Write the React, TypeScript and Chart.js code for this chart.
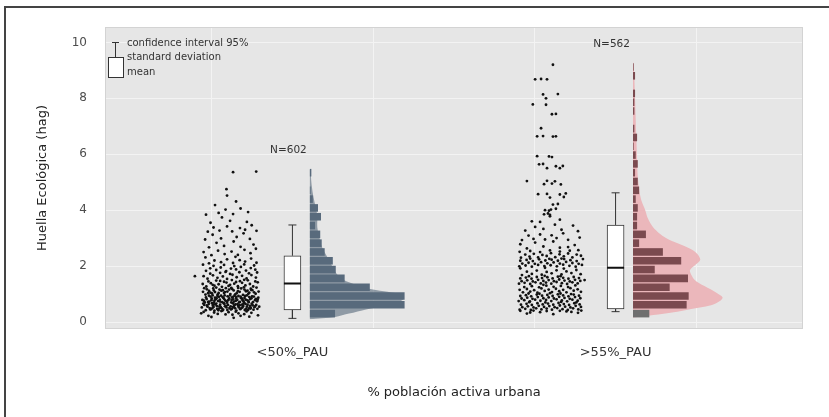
import React, { useEffect, useRef } from 'react';
import { Chart, registerables } from 'chart.js';

Chart.register(...registerables);

// ---------------- data ----------------
const CATEGORIES = ['<50%_PAU', '>55%_PAU'];
const N_LABELS = ['N=602', 'N=562'];
const Y_TICKS = [0, 2, 4, 6, 8, 10];
const X_TITLE = '% población activa urbana';
const Y_TITLE = 'Huella Ecológica (hag)';
const LEGEND_TEXT = ['confidence interval 95%', 'standard deviation', 'mean'];

// box: whisker low, box low, middle, box high, whisker high
const WHISKER_LOW = [0.13, 0.37];
const BOX_LOW = [0.43, 0.465];
const BOX_MID = [1.38, 1.94];
const BOX_HIGH = [2.37, 3.47];
const WHISKER_HIGH = [3.47, 4.62];

// histogram bin centres and counts
const HIST_BINS = [0.3, 0.615, 0.93, 1.245, 1.56, 1.875, 2.19, 2.505, 2.82, 3.135, 3.45, 3.765, 4.08, 4.395, 4.71, 5.025, 5.34, 5.655, 5.97, 6.285, 6.6, 6.915, 7.23, 7.545, 7.86, 8.175, 8.49, 8.805, 9.12];
const HIST_LOW = [34, 128, 128, 81, 47, 35, 31, 20, 16, 14, 7, 15, 11, 4, 1, 0, 2];
const HIST_HIGH = [24, 79, 82, 54, 81, 32, 71, 44, 9, 19, 6, 6, 7, 4, 9, 7, 3, 7, 4, 1, 6, 2, 0, 2, 2, 3, 0, 3, 1];

// density curves (same units as the histogram counts)
const DENS_LOW_Y = [0.1, 0.18, 0.3, 0.45, 0.6, 0.75, 0.85, 1.0, 1.1, 1.2, 1.35, 1.5, 1.7, 1.9, 2.1, 2.4, 2.7, 3.0, 3.4, 3.8, 4.2, 4.6, 5.0, 5.4, 5.45];
const DENS_LOW_V = [0, 34, 53, 76, 103, 123, 127, 120, 100, 78, 60, 46, 37, 32, 28, 22, 16, 13, 10, 10, 7, 4, 2, 1, 0];
const DENS_HIGH_Y = [0.15, 0.25, 0.35, 0.45, 0.6, 0.75, 0.88, 1.03, 1.2, 1.35, 1.5, 1.68, 1.86, 2.05, 2.22, 2.4, 2.58, 2.75, 2.93, 3.15, 3.41, 3.7, 4.0, 4.3, 4.6, 5.2, 5.8, 6.5, 7.2, 8.0, 8.7, 9.2, 9.3];
const DENS_HIGH_V = [0, 30, 60, 82, 115, 128, 132, 124, 112, 100, 91, 86, 84, 92, 99, 96, 87, 72, 54, 40, 29, 22, 18, 13, 10, 7, 6, 5, 4, 3, 2, 1, 0];

// jittered observations: [jitter (-1..1), value]
const POINTS_LOW: [number, number][] = [
  [-0.62,0.18],[0.35,0.22],[-0.15,0.27],[0.71,0.33],[-0.88,0.36],[0.12,0.15],[0.55,0.38],[-0.41,0.29],[0.93,0.24],[-0.05,0.35],[0.28,0.31],[-0.72,0.22],[0.64,0.19],[-0.29,0.39],[0.08,0.26],[-0.53,0.34],[0.47,0.28],[-0.96,0.31],[0.19,0.37],
  [-0.81,0.42],[-0.66,0.45],[-0.52,0.41],[-0.37,0.48],[-0.23,0.44],[-0.09,0.43],[0.06,0.47],[0.21,0.41],[0.34,0.46],[0.49,0.43],[0.63,0.49],[0.78,0.44],[0.91,0.47],
  [-0.94,0.52],[-0.75,0.55],[-0.58,0.51],[-0.44,0.57],[-0.31,0.53],[-0.17,0.56],[-0.02,0.5],[0.13,0.54],[0.27,0.58],[0.41,0.52],[0.56,0.55],[0.69,0.51],[0.84,0.57],
  [-0.86,0.61],[-0.71,0.64],[-0.57,0.6],[-0.46,0.66],[-0.33,0.62],[-0.19,0.65],[-0.07,0.61],[0.09,0.67],[0.18,0.63],[0.32,0.6],[0.45,0.66],[0.58,0.62],[0.72,0.65],[0.87,0.61],
  [-0.63,0.46],[-0.28,0.49],[0.02,0.56],[0.38,0.5],[0.66,0.58],[-0.49,0.63],[-0.12,0.52],[0.25,0.64],[0.53,0.47],[-0.77,0.59],[0.81,0.53],[-0.39,0.42],[0.14,0.6],[0.44,0.57],[-0.21,0.67],[0.6,0.43],[-0.55,0.54],[0.03,0.45],[0.29,0.52],[-0.68,0.5],[0.75,0.6],[-0.14,0.58],[0.51,0.65],[-0.43,0.47],[0.17,0.49],[-0.89,0.66],[0.97,0.55],[-0.25,0.41],[0.4,0.62],[-0.6,0.67],[0.1,0.53],[0.68,0.48],[-0.35,0.56],
  [-0.84,0.7],[-0.69,0.73],[-0.54,0.69],[-0.4,0.75],[-0.26,0.71],[-0.11,0.74],[0.04,0.7],[0.19,0.76],[0.33,0.72],[0.47,0.69],[0.61,0.75],[0.76,0.71],[0.9,0.74],
  [-0.92,0.79],[-0.78,0.82],[-0.62,0.78],[-0.48,0.81],[-0.34,0.8],[-0.2,0.83],[-0.06,0.78],[0.1,0.81],[0.24,0.79],[0.39,0.84],[0.52,0.8],[0.67,0.82],[0.83,0.78],
  [-0.8,0.88],[-0.65,0.91],[-0.5,0.87],[-0.37,0.9],[-0.22,0.86],[-0.08,0.92],[0.07,0.88],[0.21,0.9],[0.36,0.86],[0.5,0.93],[0.64,0.89],[0.79,0.91],[0.94,0.87],
  [-0.58,0.95],[-0.3,0.94],[0.0,0.95],[0.28,0.93],[0.56,0.95],[-0.73,0.72],[-0.16,0.77],[0.13,0.73],[0.42,0.78],[0.71,0.85],[-0.45,0.85],[-0.03,0.84],[0.3,0.7],[0.58,0.77],[-0.87,0.76],[0.86,0.83],[-0.25,0.89],[0.15,0.94],[0.45,0.74],[-0.61,0.84],[0.73,0.92],[-0.1,0.69],[0.2,0.85],[-0.42,0.93],[0.62,0.71],[-0.33,0.73],[0.05,0.79],[0.35,0.91],[-0.7,0.94],[0.92,0.8],[-0.18,0.95],[0.48,0.86],[-0.52,0.76],[0.1,0.9],
  [-0.82,0.98],[-0.6,1.02],[-0.41,0.99],[-0.2,1.04],[0.01,1.0],[0.22,1.03],[0.43,0.97],[0.64,1.05],[0.85,1.01],
  [-0.9,1.08],[-0.7,1.11],[-0.5,1.07],[-0.29,1.12],[-0.09,1.09],[0.12,1.13],[0.32,1.08],[0.53,1.1],[0.74,1.14],[0.95,1.09],
  [-0.77,1.17],[-0.56,1.2],[-0.35,1.16],[-0.14,1.21],[0.07,1.18],[0.27,1.22],[0.48,1.16],[0.69,1.19],[0.88,1.23],
  [-0.65,1.05],[-0.24,1.14],[0.17,0.99],[0.58,1.12],[-0.46,1.23],[0.37,1.2],[-0.03,1.16],[0.8,1.06],[-0.86,1.21],[0.26,1.1],[-0.54,1.13],[0.61,1.01],[-0.17,1.07],[0.46,1.24],[-0.38,1.04],[0.04,1.22],[0.7,1.15],[-0.73,1.03],
  [-0.79,1.27],[-0.52,1.3],[-0.27,1.26],[0.0,1.33],[0.26,1.28],[0.51,1.31],[0.77,1.27],
  [-0.91,1.36],[-0.64,1.39],[-0.38,1.35],[-0.12,1.41],[0.14,1.37],[0.4,1.4],[0.66,1.36],[0.92,1.42],
  [-0.72,1.45],[-0.46,1.48],[-0.2,1.44],[0.06,1.5],[0.33,1.46],[0.59,1.49],[0.84,1.45],
  [-0.58,1.33],[0.2,1.43],[-0.05,1.29],[0.47,1.51],[-0.33,1.47],
  [-0.75,1.55],[-0.42,1.58],[-0.1,1.54],[0.22,1.6],[0.55,1.56],[0.86,1.59],
  [-0.88,1.64],[-0.57,1.67],[-0.24,1.63],[0.08,1.69],[0.4,1.65],[0.71,1.68],
  [-0.66,1.73],[-0.33,1.76],[0.0,1.72],[0.31,1.78],[0.63,1.74],[-0.15,1.79],[0.9,1.77],[-1.17,1.64],
  [-0.8,1.83],[-0.46,1.86],[-0.13,1.82],[0.2,1.88],[0.53,1.84],[0.84,1.87],
  [-0.66,1.92],[-0.31,1.95],[0.03,1.91],[0.36,1.97],[0.69,1.93],
  [-0.55,2.01],[-0.2,2.04],[0.14,2.0],[0.47,2.06],[0.8,2.02],[-0.9,2.05],
  [-0.7,2.1],[-0.3,2.14],[0.1,2.11],[0.5,2.16],[0.88,2.12],[-0.52,2.2],[-0.1,2.24],[0.32,2.21],[0.7,2.27],[-0.82,2.31],[0.18,2.33],
  [-0.62,2.39],[-0.18,2.43],[0.26,2.4],[0.68,2.46],[-0.88,2.5],[-0.4,2.55],[0.05,2.52],[0.48,2.58],[0.86,2.62],
  [-0.7,2.67],[-0.2,2.72],[0.35,2.69],[0.78,2.77],[-0.45,2.83],[0.12,2.88],
  [-0.83,2.95],[-0.3,2.99],[0.22,3.04],[0.66,2.97],[-0.58,3.12],[0.45,3.17],
  [-0.74,3.23],[-0.35,3.27],[0.07,3.24],[0.5,3.3],[0.88,3.26],[-0.55,3.38],[-0.1,3.42],[0.33,3.36],[0.72,3.46],
  [-0.65,3.55],[0.0,3.62],[0.56,3.58],[-0.27,3.74],
  [-0.8,3.84],[-0.38,3.9],[0.1,3.86],[0.6,3.93],[-0.15,4.02],[0.35,4.06],
  [-0.5,4.18],[0.2,4.31],[-0.1,4.52],[-0.12,4.75],
  [0.1,5.36],[0.87,5.38],
];

const POINTS_HIGH: [number, number][] = [
  [-0.7,0.3],[-0.3,0.35],[0.1,0.28],[0.5,0.38],[0.85,0.33],[-0.9,0.4],[-0.5,0.41],[0.3,0.4],[0.65,0.36],[-0.1,0.39],[0.95,0.41],[-0.6,0.34],
  [-0.92,0.44],[-0.75,0.47],[-0.58,0.43],[-0.42,0.49],[-0.26,0.45],[-0.1,0.48],[0.06,0.44],[0.22,0.5],[0.38,0.46],[0.54,0.43],[0.7,0.49],[0.86,0.45],
  [-0.84,0.53],[-0.67,0.56],[-0.5,0.52],[-0.34,0.58],[-0.18,0.54],[-0.02,0.57],[0.14,0.53],[0.3,0.59],[0.46,0.55],[0.62,0.52],[0.78,0.58],[0.94,0.54],
  [-0.88,0.62],[-0.71,0.65],[-0.55,0.61],[-0.38,0.67],[-0.22,0.63],[-0.06,0.66],[0.1,0.62],[0.26,0.68],[0.42,0.64],[0.58,0.61],[0.74,0.67],[0.9,0.63],
  [-0.63,0.71],[-0.14,0.7],[0.34,0.72],[0.8,0.7],
  [-0.95,0.75],[-0.78,0.78],[-0.61,0.74],[-0.45,0.8],[-0.29,0.76],[-0.12,0.79],[0.04,0.75],[0.2,0.81],[0.36,0.77],[0.52,0.74],[0.68,0.8],[0.84,0.76],
  [-0.86,0.84],[-0.69,0.87],[-0.53,0.83],[-0.37,0.89],[-0.2,0.85],[-0.04,0.88],[0.12,0.84],[0.28,0.9],[0.44,0.86],[0.6,0.83],[0.76,0.89],[0.92,0.85],
  [-0.9,0.93],[-0.73,0.96],[-0.57,0.92],[-0.4,0.98],[-0.24,0.94],[-0.08,0.97],[0.08,0.93],[0.24,0.99],[0.4,0.95],[0.56,0.92],[0.72,0.98],[0.88,0.94],
  [-0.65,1.02],[-0.32,1.01],[0.0,1.03],[0.32,1.02],[0.64,1.0],
  [-0.82,1.06],[-0.6,1.09],[-0.38,1.05],[-0.16,1.11],[0.06,1.07],[0.28,1.1],[0.5,1.06],[0.72,1.12],[0.94,1.08],
  [-0.92,1.15],[-0.7,1.18],[-0.48,1.14],[-0.26,1.2],[-0.04,1.16],[0.18,1.19],[0.4,1.15],[0.62,1.21],[0.84,1.17],
  [-0.78,1.25],[-0.55,1.28],[-0.33,1.24],[-0.11,1.3],[0.11,1.26],[0.33,1.29],[0.55,1.25],[0.77,1.31],[-0.2,1.33],
  [-0.94,1.37],[-0.77,1.4],[-0.6,1.36],[-0.44,1.42],[-0.28,1.38],[-0.12,1.41],[0.04,1.37],[0.2,1.43],[0.36,1.39],[0.52,1.36],[0.68,1.42],[0.84,1.38],
  [-0.86,1.46],[-0.69,1.49],[-0.52,1.45],[-0.36,1.51],[-0.2,1.47],[-0.04,1.5],[0.12,1.46],[0.28,1.52],[0.44,1.48],[0.6,1.45],[0.76,1.51],[0.92,1.47],
  [-0.9,1.56],[-0.73,1.59],[-0.56,1.55],[-0.4,1.61],[-0.24,1.57],[-0.08,1.6],[0.08,1.56],[0.24,1.62],[0.4,1.58],[0.56,1.55],[0.72,1.61],[0.88,1.57],
  [-0.64,1.64],[-0.16,1.65],[0.32,1.64],[1.05,1.5],
  [-0.85,1.68],[-0.55,1.72],[-0.25,1.69],[0.05,1.74],[0.35,1.7],[0.65,1.75],[0.93,1.71],
  [-0.7,1.8],[-0.4,1.84],[-0.1,1.79],[0.2,1.85],[0.5,1.81],[0.8,1.86],
  [-0.9,1.92],[-0.15,1.94],[0.42,1.91],
  [-0.93,1.99],[-0.74,2.02],[-0.55,1.98],[-0.36,2.04],[-0.17,2.0],[0.02,2.03],[0.21,1.99],[0.4,2.05],[0.59,2.01],[0.78,1.98],[0.97,2.04],
  [-0.84,2.09],[-0.65,2.12],[-0.46,2.08],[-0.27,2.14],[-0.08,2.1],[0.11,2.13],[0.3,2.09],[0.49,2.15],[0.68,2.11],[0.87,2.08],
  [-0.9,2.19],[-0.71,2.22],[-0.52,2.18],[-0.33,2.24],[-0.14,2.2],[0.05,2.23],[0.24,2.19],[0.43,2.25],[0.62,2.21],[0.81,2.18],
  [-0.6,2.27],[-0.02,2.26],[0.35,2.27],[1.0,2.25],
  [-0.88,2.3],[-0.62,2.34],[-0.36,2.31],[-0.1,2.36],[0.16,2.32],[0.42,2.35],[0.68,2.31],[0.94,2.37],
  [-0.75,2.41],[-0.49,2.44],[-0.23,2.4],[0.03,2.46],[0.29,2.42],[0.55,2.45],[0.81,2.41],
  [-0.92,2.51],[-0.6,2.54],[-0.3,2.5],[0.0,2.56],[0.3,2.52],[0.6,2.55],[0.86,2.57],
  [-0.7,2.63],[-0.2,2.7],[0.3,2.66],[0.75,2.75],[-0.45,2.84],[0.55,2.68],[-0.9,2.78],[0.1,2.88],
  [-0.85,2.93],[-0.5,2.97],[-0.15,2.95],[0.2,3.0],[0.55,2.94],[0.9,3.02],[-0.65,3.09],[-0.3,3.13],[0.05,3.1],[0.4,3.17],
  [-0.75,3.27],[-0.2,3.33],[0.35,3.3],[0.7,3.45],[0.85,3.25],[-0.45,3.4],[0.15,3.48],
  [-0.55,3.6],[-0.3,3.58],[0.3,3.66],[0.0,3.78],
  [-0.18,3.85],[-0.06,3.88],[0.0,3.83],
  [-0.15,4.0],[-0.03,3.98],[0.03,4.02],[0.18,4.05],
  [0.09,4.2],[0.24,4.22],
  [0.0,4.45],[0.42,4.47],
  [-0.36,4.57],[-0.09,4.58],[0.3,4.56],[0.48,4.6],
  [-0.18,4.93],[0.06,4.95],[0.33,4.92],
  [-0.7,5.04],[-0.09,5.05],[0.15,5.03],
  [-0.09,5.5],[0.3,5.5],[0.18,5.57],[0.39,5.58],[-0.33,5.64],[-0.21,5.65],
  [-0.39,5.93],[-0.03,5.92],[0.06,5.9],
  [-0.39,6.64],[-0.21,6.65],[0.09,6.63],[0.18,6.64],
  [-0.27,6.93],
  [0.06,7.43],[0.18,7.44],
  [-0.52,7.78],[-0.12,7.77],
  [-0.12,8.0],
  [-0.21,8.14],[0.24,8.15],
  [-0.45,8.68],[-0.27,8.69],[-0.09,8.68],
  [0.09,9.2],
];

// ---------------- layout / style ----------------
const W = 829;
const H = 417;
const X_MIN = 0.42;
const X_MAX = 2.58;
const Y_MIN = -0.25;
const Y_MAX = 10.55;
const CAT_X = [1, 2];
const X_GRID = [0.75, 1.25, 1.75, 2.25];
const CLOUD_SHIFT = [-0.193, -0.203];
const CLOUD_HALF = [0.093, 0.102];
const HIST_SHIFT = 0.054;
const HIST_UNIT = [0.00229, 0.0021];
const MEDIAN_HALF = 0.0263;
const CAP_HALF = 0.0124;
const FONT = '"DejaVu Sans", sans-serif';

const BAR_LOW_COLOR = '#586a7c';
const DENS_LOW_COLOR = 'rgba(88,106,124,0.62)';
const BAR_HIGH_COLOR = '#7b4a4f';
const BAR_HIGH_FIRST = '#6f6f6f';
const DENS_HIGH_COLOR = '#ebb7bb';

const GROUP_POINTS = [POINTS_LOW, POINTS_HIGH];
const GROUP_HIST = [HIST_LOW, HIST_HIGH];

const decorPlugin = {
  id: 'decor',
  beforeDraw(chart: any) {
    const { ctx, chartArea: a } = chart;
    ctx.save();
    ctx.fillStyle = '#e6e6e6';
    ctx.fillRect(a.left, a.top, a.right - a.left, a.bottom - a.top);
    ctx.restore();
  },
  afterDatasetsDraw(chart: any) {
    const { ctx, chartArea: a, scales } = chart;
    const xs = scales.x;
    const ys = scales.y;
    ctx.save();
    ctx.strokeStyle = '#d3d3d3';
    ctx.lineWidth = 1;
    ctx.strokeRect(a.left + 0.5, a.top + 0.5, a.right - a.left - 1, a.bottom - a.top - 1);

    // N labels above each group
    ctx.fillStyle = '#333';
    ctx.font = `10.5px ${FONT}`;
    ctx.textAlign = 'center';
    ctx.textBaseline = 'middle';
    GROUP_POINTS.forEach((pts, i) => {
      const maxV = Math.max(...pts.map((p) => p[1]));
      ctx.fillText(N_LABELS[i], xs.getPixelForValue(CAT_X[i]) - 4, ys.getPixelForValue(maxV + 0.75));
    });

    // key in the top-left corner
    const L = a.left;
    const T = a.top;
    ctx.strokeStyle = '#333';
    ctx.lineWidth = 1;
    ctx.beginPath();
    ctx.moveTo(L + 10.5, T + 15);
    ctx.lineTo(L + 10.5, T + 30);
    ctx.moveTo(L + 7, T + 15.5);
    ctx.lineTo(L + 14, T + 15.5);
    ctx.stroke();
    ctx.fillStyle = '#fff';
    ctx.fillRect(L + 3.5, T + 30.5, 15, 20);
    ctx.strokeRect(L + 3.5, T + 30.5, 15, 20);
    ctx.fillStyle = '#333';
    ctx.font = `10px ${FONT}`;
    ctx.textAlign = 'left';
    ctx.textBaseline = 'middle';
    ctx.fillText(LEGEND_TEXT[0], L + 22, T + 16);
    ctx.fillText(LEGEND_TEXT[1], L + 22, T + 30);
    ctx.fillText(LEGEND_TEXT[2], L + 22, T + 45);
    ctx.restore();
  },
};

function buildDatasets() {
  const ds: any[] = [];
  // jittered points
  GROUP_POINTS.forEach((pts, g) => {
    ds.push({
      type: 'scatter',
      data: pts.map(([j, v]) => ({ x: CAT_X[g] + CLOUD_SHIFT[g] + j * CLOUD_HALF[g], y: v })),
      pointRadius: 1.4,
      pointBackgroundColor: '#111',
      pointBorderWidth: 0,
      order: 0,
    });
  });
  // medians and whiskers
  const med: any[] = [];
  const whisk: any[] = [];
  CAT_X.forEach((c, g) => {
    med.push({ x: c - MEDIAN_HALF, y: BOX_MID[g] }, { x: c + MEDIAN_HALF, y: BOX_MID[g] }, { x: c, y: null });
    whisk.push(
      { x: c, y: BOX_HIGH[g] }, { x: c, y: WHISKER_HIGH[g] }, { x: c, y: null },
      { x: c - CAP_HALF, y: WHISKER_HIGH[g] }, { x: c + CAP_HALF, y: WHISKER_HIGH[g] }, { x: c, y: null },
      { x: c, y: BOX_LOW[g] }, { x: c, y: WHISKER_LOW[g] }, { x: c, y: null },
      { x: c - CAP_HALF, y: WHISKER_LOW[g] }, { x: c + CAP_HALF, y: WHISKER_LOW[g] }, { x: c, y: null },
    );
  });
  ds.push({
    type: 'line', data: med, borderColor: '#111', borderWidth: 2, pointRadius: 0, spanGaps: false, tension: 0, fill: false, order: 1,
  });
  ds.push({
    type: 'line', data: whisk, borderColor: '#333', borderWidth: 1, pointRadius: 0, spanGaps: false, tension: 0, fill: false, order: 1,
  });
  // boxes
  ds.push({
    type: 'bar',
    data: CAT_X.map((c, g) => ({ x: c, y: [BOX_LOW[g], BOX_HIGH[g]] })),
    backgroundColor: '#ffffff',
    borderColor: '#333',
    borderWidth: 1,
    borderSkipped: false,
    barThickness: 17,
    grouped: false,
    order: 2,
  });
  // histograms
  GROUP_HIST.forEach((counts, g) => {
    const base = CAT_X[g] + HIST_SHIFT;
    ds.push({
      type: 'bar',
      indexAxis: 'y',
      xAxisID: 'x',
      yAxisID: 'yh',
      data: counts.map((n, i) => ({ y: HIST_BINS[i], x: [base, base + n * HIST_UNIT[g]] })),
      backgroundColor: g === 0 ? BAR_LOW_COLOR : counts.map((_, i) => (i === 0 ? BAR_HIGH_FIRST : BAR_HIGH_COLOR)),
      borderWidth: 0,
      barPercentage: 0.86,
      categoryPercentage: 1,
      grouped: false,
      order: 3,
    });
  });
  // densities
  [[DENS_LOW_Y, DENS_LOW_V, DENS_LOW_COLOR], [DENS_HIGH_Y, DENS_HIGH_V, DENS_HIGH_COLOR]].forEach(([ys, vs, col]: any, g) => {
    const base = CAT_X[g] + HIST_SHIFT;
    ds.push({
      type: 'line',
      indexAxis: 'y',
      xAxisID: 'x',
      yAxisID: 'y',
      data: ys.map((y: number, i: number) => ({ y, x: base + vs[i] * HIST_UNIT[g] })),
      borderColor: 'rgba(0,0,0,0)',
      borderWidth: 0,
      pointRadius: 0,
      tension: 0.3,
      fill: { value: base },
      backgroundColor: col,
      order: 4,
    });
  });
  return ds;
}

export default function App() {
  const ref = useRef<HTMLCanvasElement | null>(null);

  useEffect(() => {
    if (!ref.current) return;
    Chart.defaults.font.family = FONT;
    const chart = new Chart(ref.current, {
      type: 'scatter',
      data: { datasets: buildDatasets() },
      plugins: [decorPlugin],
      options: {
        responsive: false,
        animation: false,
        events: [],
        layout: { padding: { top: 27, right: 26, bottom: 0, left: 0 } },
        plugins: {
          legend: { display: false },
          tooltip: { enabled: false },
        },
        scales: {
          x: {
            type: 'linear',
            min: X_MIN,
            max: X_MAX,
            offset: false,
            afterBuildTicks: (s: any) => {
              s.ticks = [...X_GRID, ...CAT_X].sort((p, q) => p - q).map((v) => ({ value: v }));
            },
            afterFit: (s: any) => {
              s.height = H - 329;
            },
            ticks: {
              autoSkip: false,
              maxRotation: 0,
              padding: 16,
              color: '#333',
              font: { size: 13 },
              callback: (v: any) => {
                const i = CAT_X.indexOf(Number(v));
                return i >= 0 ? CATEGORIES[i] : '';
              },
            },
            grid: {
              offset: false,
              drawTicks: false,
              lineWidth: 1,
              color: (c: any) => (c.tick && CAT_X.includes(c.tick.value) ? 'rgba(0,0,0,0)' : '#f3f3f3'),
            },
            border: { display: false },
            title: { display: true, text: X_TITLE, color: '#222', font: { size: 13 }, padding: { top: 0, bottom: 17 } },
          },
          y: {
            type: 'linear',
            min: Y_MIN,
            max: Y_MAX,
            offset: false,
            afterBuildTicks: (s: any) => {
              s.ticks = Y_TICKS.map((v) => ({ value: v }));
            },
            afterFit: (s: any) => {
              s.width = 105;
            },
            ticks: { padding: 18, color: '#4d4d4d', font: { size: 12 } },
            grid: { offset: false, drawTicks: false, color: '#f3f3f3', lineWidth: 1 },
            border: { display: false },
            title: { display: true, text: Y_TITLE, color: '#222', font: { size: 13 }, padding: { top: 35, bottom: 0 } },
          },
          yh: {
            type: 'linear',
            axis: 'y',
            position: 'left',
            display: false,
            min: Y_MIN,
            max: Y_MAX,
            offset: false,
            grid: { offset: false },
            ticks: { stepSize: 5 },
          },
        },
      } as any,
    });
    return () => chart.destroy();
  }, []);

  return (
    <div style={{ position: 'fixed', left: 0, top: 0, width: W, height: H, background: '#fff', overflow: 'hidden' }}>
      <canvas ref={ref} width={W} height={H} style={{ display: 'block' }} />
      <div
        style={{
          position: 'absolute',
          left: 4,
          top: 6,
          width: W + 20,
          height: H + 20,
          borderLeft: '2px solid #444',
          borderTop: '2px solid #444',
          pointerEvents: 'none',
        }}
      />
    </div>
  );
}
